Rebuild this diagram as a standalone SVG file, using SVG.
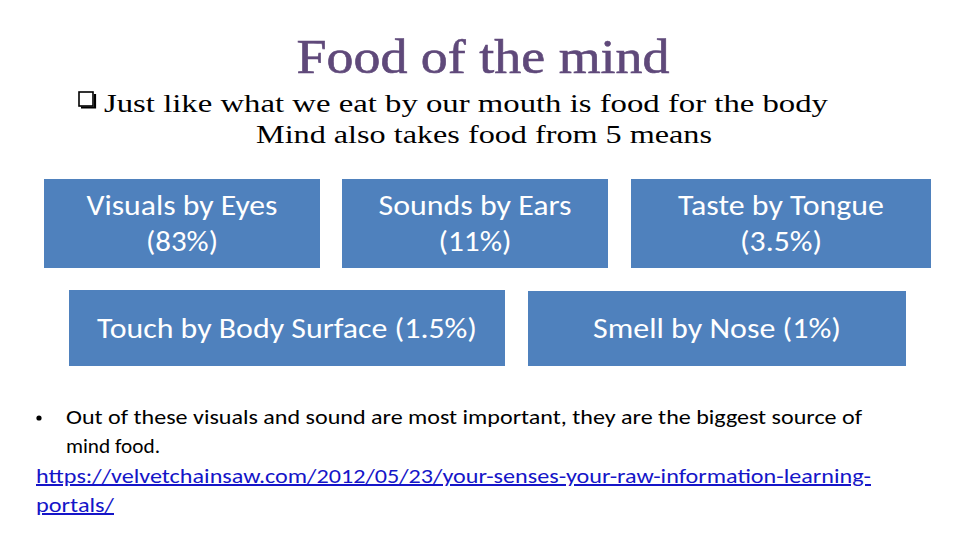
<svg xmlns="http://www.w3.org/2000/svg" width="960" height="540" viewBox="0 0 960 540">
<style>
.box{fill:#4F81BD}
.bt{font-family:Calibri,"Open Sans","Liberation Sans",sans-serif;font-size:28px;fill:#FFFFFF;text-anchor:middle}
.sf{font-family:"Liberation Serif","DejaVu Serif",serif;fill:#000}
.cb{font-family:Calibri,"Open Sans","Liberation Sans",sans-serif;font-size:20px}
</style>
<rect width="960" height="540" fill="#FFFFFF"/>
<text x="483" y="73" font-family="'Liberation Serif','DejaVu Serif',serif" font-size="48" fill="#5F497A" stroke="#5F497A" stroke-width="0.6" text-anchor="middle" textLength="373" lengthAdjust="spacingAndGlyphs">Food of the mind</text>
<rect x="79" y="92" width="14" height="14" fill="none" stroke="#000" stroke-width="1.6"/>
<path d="M81 107.5 H95 V94" fill="none" stroke="#000" stroke-width="2.2"/>
<text class="sf" x="104" y="112" font-size="26" textLength="724" lengthAdjust="spacingAndGlyphs">Just like what we eat by our mouth is food for the body</text>
<text class="sf" x="256" y="143" font-size="26" textLength="456" lengthAdjust="spacingAndGlyphs">Mind also takes food from 5 means</text>
<g id="node-visuals">
<rect class="box" x="44" y="179" width="276" height="89"/>
<text class="bt" x="182" y="215" textLength="191" lengthAdjust="spacingAndGlyphs">Visuals by Eyes</text>
<text class="bt" x="182" y="251" textLength="72" lengthAdjust="spacingAndGlyphs">(83%)</text>
</g>
<g id="node-sounds">
<rect class="box" x="342" y="179" width="266" height="89"/>
<text class="bt" x="475" y="215" textLength="193" lengthAdjust="spacingAndGlyphs">Sounds by Ears</text>
<text class="bt" x="475" y="251" textLength="73" lengthAdjust="spacingAndGlyphs">(11%)</text>
</g>
<g id="node-taste">
<rect class="box" x="631" y="179" width="300" height="89"/>
<text class="bt" x="781" y="215" textLength="206" lengthAdjust="spacingAndGlyphs">Taste by Tongue</text>
<text class="bt" x="781" y="251" textLength="82" lengthAdjust="spacingAndGlyphs">(3.5%)</text>
</g>
<g id="node-touch">
<rect class="box" x="69" y="290" width="436" height="76"/>
<text class="bt" x="287" y="338" textLength="380" lengthAdjust="spacingAndGlyphs">Touch by Body Surface (1.5%)</text>
</g>
<g id="node-smell">
<rect class="box" x="528" y="291" width="378" height="75"/>
<text class="bt" x="717" y="338" textLength="248" lengthAdjust="spacingAndGlyphs">Smell by Nose (1%)</text>
</g>
<g id="connectors"></g>
<circle cx="39" cy="418" r="2.6" fill="#000"/>
<text class="cb" x="66" y="424" fill="#000" textLength="796" lengthAdjust="spacingAndGlyphs">Out of these visuals and sound are most important, they are the biggest source of</text>
<text class="cb" x="66" y="453" fill="#000" textLength="94" lengthAdjust="spacingAndGlyphs">mind food.</text>
<text class="cb" x="36" y="483" fill="#1515C8" text-decoration="underline" textLength="835" lengthAdjust="spacingAndGlyphs">https://velvetchainsaw.com/2012/05/23/your-senses-your-raw-information-learning-</text>
<text class="cb" x="36" y="512" fill="#1515C8" text-decoration="underline" textLength="78" lengthAdjust="spacingAndGlyphs">portals/</text>
</svg>
